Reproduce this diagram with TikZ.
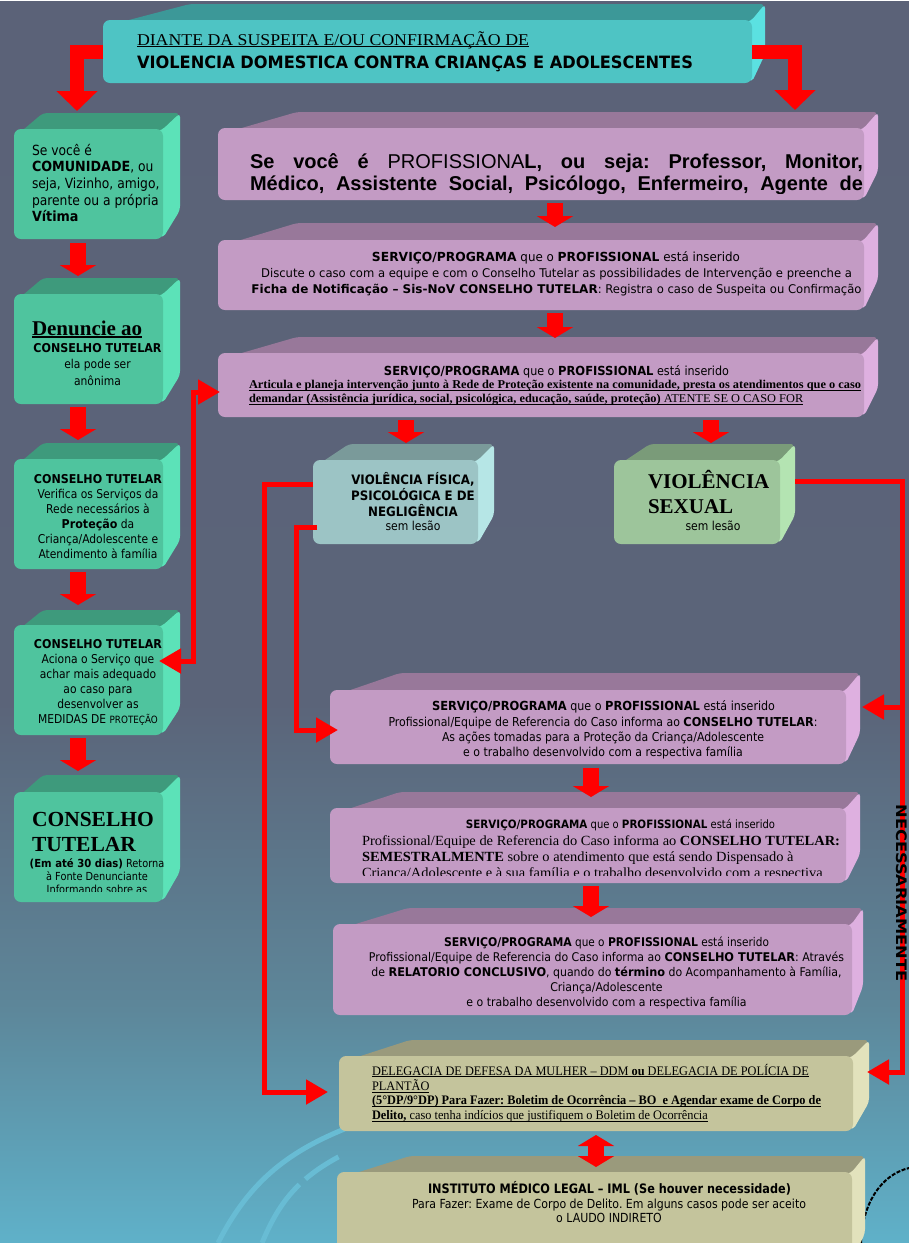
\documentclass[tikz,border=0pt]{standalone}
\usepackage{fontspec}
\usepackage{graphicx}
\usetikzlibrary{arrows.meta,calc}
\newfontfamily\tah{DejaVu Sans}[UprightFeatures={FakeStretch=0.88},BoldFeatures={FakeStretch=0.91}]
\newfontfamily\tms{Liberation Serif}
\newfontfamily\ari{Liberation Sans}
\frenchspacing
\newcommand\ulx[3]{\setbox0\hbox{#3}\rlap{\rule[#1]{\wd0}{#2}}\box0}
\newcommand\ul[1]{\ulx{-2.2pt}{0.9pt}{#1}}
\newcommand\fitbox[3]{\resizebox{#1}{\height}{\begin{tabular}[t]{@{}#2@{}}#3\end{tabular}}}
\newcommand\lns[2]{\begin{tabular}[t]{@{}#1@{}}#2\end{tabular}}
\definecolor{bgT}{HTML}{5B6278}
\definecolor{bgA}{HTML}{5B6479}
\definecolor{bgB}{HTML}{5D8699}
\definecolor{bgC}{HTML}{5FB2CA}
\definecolor{decor}{HTML}{68BCD4}
\definecolor{tealfront}{HTML}{4EC4C4}\definecolor{tealtop}{HTML}{3C9898}\definecolor{tealside}{HTML}{5BE1E1}
\definecolor{grnfront}{HTML}{4FC49E}\definecolor{grntop}{HTML}{3E9A7C}\definecolor{grnside}{HTML}{5CE2B8}
\definecolor{pnkfront}{HTML}{C39BC4}\definecolor{pnktop}{HTML}{98789A}\definecolor{pnkside}{HTML}{DEB0E0}
\definecolor{vafront}{HTML}{9CC4C5}\definecolor{vatop}{HTML}{7A9A9A}\definecolor{vaside}{HTML}{B6E6E6}
\definecolor{vbfront}{HTML}{9DC59B}\definecolor{vbtop}{HTML}{7A9B79}\definecolor{vbside}{HTML}{B4E4B2}
\definecolor{khfront}{HTML}{C4C49C}\definecolor{khtop}{HTML}{9A9A7C}\definecolor{khside}{HTML}{E2E2BC}
\pgfdeclareverticalshading{bgsh}{909bp}{color(0bp)=(bgC); color(243bp)=(bgB); color(543bp)=(bgA); color(1243bp)=(bgT)}
% 3D box: name, x1, y1, x2, y2, back-left x, back-right x, back-top y, colour prefix
\newcommand\tdbox[9]{%
 \pgfmathsetmacro\tdbxB{#5-1.8*(#3-#8)}%
 \pgfmathsetmacro\tdbxW{#4-#2}%
 \pgfmathsetmacro\tdbxH{#5-#3}%
 \fill[#9top, rounded corners=4pt] (#2+3,#3+6) -- (#6,#8) -- (#7,#8) -- (#4,#3+3) -- (#4-10,#3+8) -- cycle;
 \fill[#9side, rounded corners=4pt] (#4-10,#3+3) -- (#4-1,#3+1) -- (#7,#8) -- (#7,\tdbxB) -- (#4,#5-1) -- (#4-10,#5-6) -- cycle;
 \node[front, fill=#9front, minimum width=\tdbxW pt, minimum height=\tdbxH pt, anchor=north west] (#1) at (#2,#3) {};
}
\tikzset{
 front/.style={rounded corners=7pt, inner sep=0pt, outer sep=0pt, draw=none},
 txt/.style={inner sep=0pt, outer sep=0pt, text=black},
 flow/.style={draw=red, line width=16pt, -{Triangle[width=36pt,length=11pt]}},
 flowdbl/.style={draw=red, line width=16pt, {Triangle[width=36pt,length=11pt]}-{Triangle[width=36pt,length=11pt]}},
 bigarrow/.style={draw=red, line width=14pt, -{Triangle[width=40pt,length=20pt]}},
 conn/.style={draw=red, line width=5pt},
 connend/.style={conn, -{Triangle[width=24pt,length=22pt]}},
 connboth/.style={conn, {Triangle[width=24pt,length=22pt]}-{Triangle[width=24pt,length=22pt]}},
 decorline/.style={draw=decor, line width=5pt},
}
\begin{document}
\begin{tikzpicture}[x=1pt,y=-1pt]
\useasboundingbox (0,0) rectangle (909,1243);
\clip (0,0) rectangle (909,1243);
\node[inner sep=0pt, outer sep=0pt, anchor=north west] (bg) at (0,0) {\pgfuseshading{bgsh}};
% background decoration
\draw[decorline] (218,1243) .. controls (250,1180) and (290,1150) .. (352,1126);
\draw[decorline, dash pattern=on 70pt off 8pt on 40pt off 200pt] (262,1243) .. controls (280,1200) and (300,1175) .. (352,1150);
\draw[black, line width=2pt, dash pattern=on 4pt off 1.5pt] (861,1243) .. controls (862,1205) and (880,1175) .. (909,1168);
% boxes
\tdbox{H}{103}{20}{752}{83}{190}{765}{4}{teal}
\tdbox{L1}{14}{129}{163}{239}{43}{180}{113}{grn}
\tdbox{L2}{14}{294}{163}{404}{43}{180}{278}{grn}
\tdbox{L3}{14}{459}{163}{569}{43}{180}{443}{grn}
\tdbox{L4}{14}{625}{163}{735}{43}{180}{610}{grn}
\tdbox{L5}{14}{792}{163}{902}{43}{180}{775}{grn}
\tdbox{R1}{218}{128}{864}{200}{297}{878}{112}{pnk}
\tdbox{R2}{218}{240}{864}{310}{297}{878}{223}{pnk}
\tdbox{R3}{218}{353}{864}{417}{297}{878}{337}{pnk}
\tdbox{V1}{313}{460}{478}{544}{349}{494}{444}{va}
\tdbox{V2}{614}{460}{780}{544}{650}{795}{444}{vb}
\tdbox{S1}{330}{690}{846}{764}{400}{860}{673}{pnk}
\tdbox{S2}{330}{808}{846}{883}{400}{860}{792}{pnk}
\tdbox{S3}{333}{924}{852}{1015}{408}{863}{908}{pnk}
\tdbox{DDM}{339}{1056}{853}{1131}{410}{869}{1040}{kh}
\tdbox{IML}{337}{1172}{852}{1262}{410}{865}{1156}{kh}
% header arrows
\draw[bigarrow] (H.west) -| ([xshift=-11.5pt,yshift=18pt]L1.north);
\draw[bigarrow] (H.east) -| ([xshift=-69pt,yshift=18pt]R1.north east);
% flow arrows
\draw[flow] ([xshift=-10.5pt,yshift=-4pt]L1.south) -- ([xshift=-10.5pt,yshift=18pt]L2.north);
\draw[flow] ([xshift=-10.5pt,yshift=-3pt]L2.south) -- ([xshift=-10.5pt,yshift=19pt]L3.north);
\draw[flow] ([xshift=-10.5pt,yshift=-3pt]L3.south) -- ([xshift=-10.5pt,yshift=20pt]L4.north);
\draw[flow] ([xshift=-10.5pt,yshift=-3pt]L4.south) -- ([xshift=-10.5pt,yshift=21pt]L5.north);
\draw[flow] ([xshift=14pt,yshift=-3pt]R1.south) -- ([xshift=14pt,yshift=13pt]R2.north);
\draw[flow] ([xshift=14pt,yshift=-3pt]R2.south) -- ([xshift=14pt,yshift=15pt]R3.north);
\draw[flow] ([xshift=-135pt,yshift=-3pt]R3.south) -- ([xshift=10.5pt,yshift=17pt]V1.north);
\draw[flow] ([xshift=170pt,yshift=-3pt]R3.south) -- ([xshift=14pt,yshift=17pt]V2.north);
\draw[flow] ([xshift=3pt,yshift=-4pt]S1.south) -- ([xshift=3pt,yshift=11pt]S2.north);
\draw[flow] ([xshift=3pt,yshift=-3pt]S2.south) -- ([xshift=-1.5pt,yshift=7pt]S3.north);
\draw[flowdbl] ([yshift=-4pt]DDM.south) -- ([xshift=1.5pt,yshift=5pt]IML.north);
% connectors
\coordinate (lx0) at (193,0);
\coordinate (lx1) at (264,0);
\coordinate (lx2) at (296,0);
\coordinate (rx) at (902,0);
\coordinate (pR3) at ([xshift=2pt,yshift=-7pt]R3.west);
\coordinate (pL4) at ([xshift=-4pt,yshift=19pt]L4.east);
\coordinate (pV1a) at ([yshift=18pt]V1.west);
\coordinate (pV1b) at ([xshift=4pt,yshift=-25pt]V1.west);
\coordinate (pDDMw) at ([xshift=-11pt,yshift=1.5pt]DDM.west);
\coordinate (pS1w) at ([xshift=8pt,yshift=-3pt]S1.west);
\coordinate (pV2e) at ([xshift=15pt,yshift=21pt]V2.east);
\coordinate (pDDMe) at ([xshift=14pt,yshift=21.5pt]DDM.east);
\coordinate (pS1e) at ([xshift=16pt,yshift=20pt]S1.east);
\draw[connboth] (pL4) -- (pL4 -| lx0) -- (lx0 |- pR3) -- (pR3);
\draw[connend] (pV1a) -- (pV1a -| lx1) -- (lx1 |- pDDMw) -- (pDDMw);
\draw[connend] (pV1b) -- (pV1b -| lx2) -- (lx2 |- pS1w) -- (pS1w);
\draw[connend] (pV2e) -- (pV2e -| rx) -- (rx |- pDDMe) -- (pDDMe);
\draw[connend] (rx |- pS1e) -- (pS1e);
% header text
\node[txt, anchor=base west, font=\tms\fontsize{16.5}{20}\selectfont] (th1) at (137,45) {\resizebox{392pt}{\height}{\ul{DIANTE DA SUSPEITA E/OU CONFIRMAÇÃO DE}}};
\node[txt, anchor=base west, font=\tah\bfseries\fontsize{17}{20}\selectfont] (th2) at (137,68) {\resizebox{556pt}{\height}{VIOLENCIA DOMESTICA CONTRA CRIANÇAS E ADOLESCENTES}};
% left column text
\node[txt, anchor=base west, font=\tah\fontsize{14}{16.7}\selectfont] (tL1) at (32,155) {\lns{l}{Se você é\\\textbf{COMUNIDADE}, ou\\seja, Vizinho, amigo,\\parente ou a própria\\\textbf{Vítima}}};
\node[txt, anchor=base west, font=\tms\bfseries\fontsize{21}{24}\selectfont] (tL2a) at (32,335) {\ulx{-3pt}{1.6pt}{Denuncie ao}};
\node[txt, anchor=base, font=\tah\fontsize{12.2}{16.5}\selectfont] (tL2b) at (97.5,352) {\lns{c}{\textbf{CONSELHO TUTELAR}\\ela pode ser\\anônima}};
\node[txt, anchor=base, font=\tah\fontsize{12.2}{15}\selectfont] (tL3) at (98,483) {\lns{c}{\textbf{CONSELHO TUTELAR}\\Verifica os Serviços da\\Rede necessários à\\\textbf{Proteção} da\\Criança/Adolescente e\\Atendimento à família}};
\node[txt, anchor=base, font=\tah\fontsize{12.2}{15}\selectfont] (tL4) at (98,648.5) {\lns{c}{\textbf{CONSELHO TUTELAR}\\Aciona o Serviço que\\achar mais adequado\\ao caso para\\desenvolver as\\MEDIDAS DE {\fontsize{10}{15}\selectfont PROTEÇÃO}}};
\node[txt, anchor=base west, font=\tms\bfseries\fontsize{21.5}{25.7}\selectfont] (tL5a) at (32,826) {\lns{l}{CONSELHO\\TUTELAR}};
\begin{scope}
\clip (14,792) rectangle (163,891.5);
\node[txt, anchor=base, font=\tah\fontsize{11.1}{13}\selectfont] (tL5b) at (97,867.5) {\lns{c}{\textbf{(Em até 30 dias)} Retorna\\à Fonte Denunciante\\Informando sobre as}};
\end{scope}
% right column text
\begin{scope}
\clip (218,128) rectangle (864,193.5);
\node[txt, anchor=base west, font=\ari\bfseries\fontsize{20}{23}\selectfont] (tR1a) at (250,168) {\makebox[613pt][s]{Se você é \textmd{PROFISSIONA}L, ou seja: Professor, Monitor,}};
\node[txt, anchor=base west, font=\ari\bfseries\fontsize{20}{23}\selectfont] (tR1b) at (250,190) {\makebox[613pt][s]{Médico, Assistente Social, Psicólogo, Enfermeiro, Agente de}};
\end{scope}
\node[txt, anchor=base, font=\tah\fontsize{12.5}{16}\selectfont] (tR2a) at (556,261) {\resizebox{368pt}{\height}{\textbf{SERVIÇO/PROGRAMA} que o \textbf{PROFISSIONAL} está inserido}};
\node[txt, anchor=base, font=\tah\fontsize{12}{16}\selectfont] (tR2b) at (556.5,277.5) {\fitbox{610pt}{c}{Discute o caso com a equipe e com o Conselho Tutelar as possibilidades de Intervenção e preenche a\\\textbf{Ficha de Notificação – Sis-NoV CONSELHO TUTELAR}: Registra o caso de Suspeita ou Confirmação}};
\node[txt, anchor=base, font=\tah\fontsize{12.5}{15}\selectfont] (tR3a) at (556.5,375) {\resizebox{345pt}{\height}{\textbf{SERVIÇO/PROGRAMA} que o \textbf{PROFISSIONAL} está inserido}};
\node[txt, anchor=base west, font=\tms\fontsize{12}{14}\selectfont] (tR3b) at (249,388.5) {\fitbox{612pt}{l}{\ulx{-2.3pt}{1.2pt}{\textbf{Articula e planeja intervenção junto à Rede de Proteção existente na comunidade, presta os atendimentos que o caso}}\\\ulx{-2.3pt}{1.2pt}{\textbf{demandar (Assistência jurídica, social, psicológica, educação, saúde, proteção)} ATENTE SE O CASO FOR}}};
\node[txt, anchor=base, font=\tah\fontsize{13}{14.3}\selectfont] (tV1) at (413,484) {\lns{c}{\textbf{VIOLÊNCIA FÍSICA,}\\\textbf{PSICOLÓGICA E DE}\\\textbf{NEGLIGÊNCIA}\\{\fontsize{12.3}{14.3}\selectfont sem lesão}}};
\node[txt, anchor=base west, font=\tms\bfseries\fontsize{21}{25}\selectfont] (tV2a) at (648,488.5) {\lns{l}{VIOLÊNCIA\\SEXUAL}};
\node[txt, anchor=base, font=\tah\fontsize{12.3}{14}\selectfont] (tV2b) at (713,530) {sem lesão};
\node[txt, anchor=base, font=\tah\fontsize{12.5}{15}\selectfont] (tS1a) at (603.5,710.7) {\resizebox{343pt}{\height}{\textbf{SERVIÇO/PROGRAMA} que o \textbf{PROFISSIONAL} está inserido}};
\begin{scope}
\clip (330,690) rectangle (846,758.5);
\node[txt, anchor=base, font=\tah\fontsize{12.3}{15}\selectfont] (tS1b) at (603,726) {\fitbox{429pt}{c}{Profissional/Equipe de Referencia do Caso informa ao \textbf{CONSELHO TUTELAR}:\\As ações tomadas para a Proteção da Criança/Adolescente\\e o trabalho desenvolvido com a respectiva família}};
\end{scope}
\node[txt, anchor=base, font=\tah\fontsize{11.5}{15}\selectfont] (tS2a) at (620.5,828.3) {\resizebox{309pt}{\height}{\textbf{SERVIÇO/PROGRAMA} que o \textbf{PROFISSIONAL} está inserido}};
\begin{scope}
\clip (330,808) rectangle (846,875);
\node[txt, anchor=base west, font=\tms\fontsize{14}{16}\selectfont] (tS2b) at (362,845) {\fitbox{478pt}{l}{Profissional/Equipe de Referencia do Caso informa ao \textbf{CONSELHO TUTELAR:}\\\textbf{SEMESTRALMENTE} sobre o atendimento que está sendo Dispensado à\\Criança/Adolescente e à sua família e o trabalho desenvolvido com a respectiva}};
\end{scope}
\node[txt, anchor=base, font=\tah\fontsize{12}{15}\selectfont] (tS3a) at (606.5,946) {\resizebox{325pt}{\height}{\textbf{SERVIÇO/PROGRAMA} que o \textbf{PROFISSIONAL} está inserido}};
\begin{scope}
\clip (333,924) rectangle (852,1008);
\node[txt, anchor=base, font=\tah\fontsize{12}{15}\selectfont] (tS3b) at (606.5,961.7) {\fitbox{475pt}{c}{Profissional/Equipe de Referencia do Caso informa ao \textbf{CONSELHO TUTELAR}: Através\\de \textbf{RELATORIO CONCLUSIVO}, quando do \textbf{término} do Acompanhamento à Família,\\Criança/Adolescente\\e o trabalho desenvolvido com a respectiva família}};
\end{scope}
\node[txt, anchor=base west, font=\tms\fontsize{13}{14.5}\selectfont] (tDDM) at (372,1075) {\fitbox{449pt}{l}{\ul{DELEGACIA DE DEFESA DA MULHER – DDM \textbf{ou} DELEGACIA DE POLÍCIA DE}\\\ul{PLANTÃO}\\\ul{\textbf{(5°DP/9°DP) Para Fazer: Boletim de Ocorrência – BO\ \ e Agendar exame de Corpo de}}\\\ul{\textbf{Delito,} caso tenha indícios que justifiquem o Boletim de Ocorrência}}};
\node[txt, anchor=base, font=\tah\bfseries\fontsize{13}{15}\selectfont] (tIMLa) at (609.5,1193.3) {\resizebox{363pt}{\height}{INSTITUTO MÉDICO LEGAL – IML (Se houver necessidade)}};
\node[txt, anchor=base, font=\tah\fontsize{12.5}{14.5}\selectfont] (tIMLb) at (609,1208.3) {\fitbox{394pt}{c}{Para Fazer: Exame de Corpo de Delito. Em alguns casos pode ser aceito\\o LAUDO INDIRETO}};
\node[txt, rotate=-90, font=\tah\bfseries\fontsize{14.5}{16}\selectfont] (nec) at (902,893) {\resizebox{177pt}{\height}{NECESSARIAMENTE}};
\end{tikzpicture}
\end{document}
